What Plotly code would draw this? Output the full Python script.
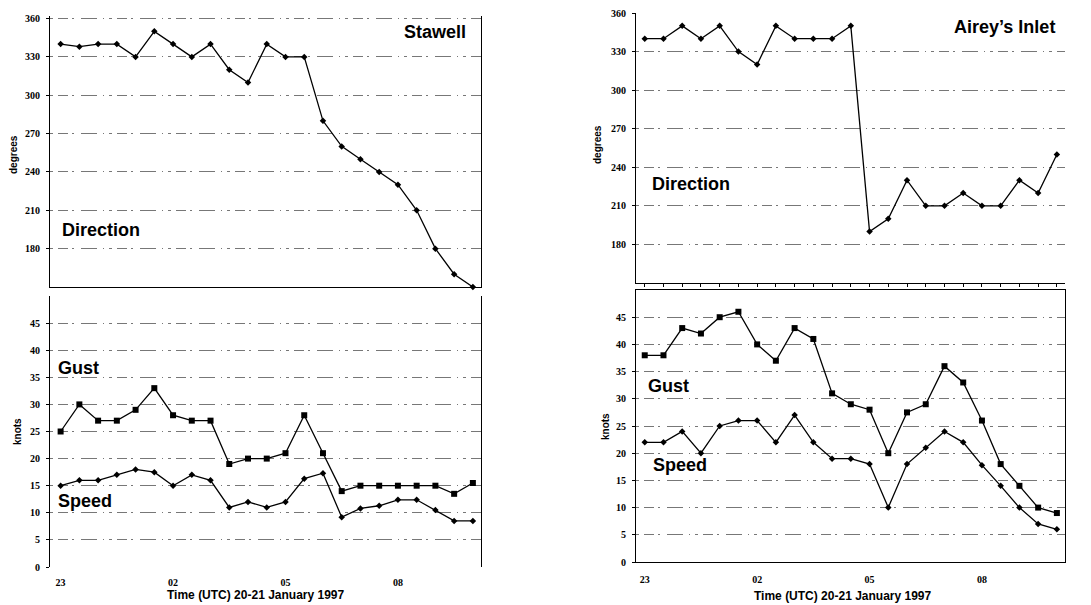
import plotly.graph_objects as go
import pandas as pd

W, H = 1091, 605

# half-hourly observation times, 23 UTC 20 Jan to 10 UTC 21 Jan 1997
times = pd.date_range("1997-01-20 23:00", "1997-01-21 10:00", freq="30min")

stawell_dir = [340, 338, 340, 340, 330, 350, 340, 330, 340, 320, 310, 340,
               330, 330, 280, 260, 250, 240, 230, 210, 180, 160, 150]
stawell_gust = [25, 30, 27, 27, 29, 33, 28, 27, 27, 19, 20, 20, 21, 28, 21,
                14, 15, 15, 15, 15, 15, 13.5, 15.5]
stawell_speed = [15, 16, 16, 17, 18, 17.5, 15, 17, 16, 11, 12, 11, 12, 16.3,
                 17.3, 9.2, 10.8, 11.3, 12.4, 12.4, 10.5, 8.5, 8.5]

airey_dir = [340, 340, 350, 340, 350, 330, 320, 350, 340, 340, 340, 350,
             190, 200, 230, 210, 210, 220, 210, 210, 230, 220, 250]
airey_gust = [38, 38, 43, 42, 45, 46, 40, 37, 43, 41, 31, 29, 28, 20, 27.5,
              29, 36, 33, 26, 18, 14, 10, 9]
airey_speed = [22, 22, 24, 20, 25, 26, 26, 22, 27, 22, 19, 19, 18, 10, 18,
               21, 24, 22, 17.8, 14, 10, 7, 6]

dir_ticks = [180, 210, 240, 270, 300, 330, 360]
knot_ticks = [0, 5, 10, 15, 20, 25, 30, 35, 40, 45]
time_tick_vals = ["1997-01-20 23:00", "1997-01-21 02:00", "1997-01-21 05:00", "1997-01-21 08:00"]
time_tick_text = ["23", "02", "05", "08"]

stations = ["Stawell", "Airey\u2019s Inlet"]
x_title = "Time (UTC) 20-21 January 1997"


def px_x(p):
    return p / W


def px_y(p):
    return 1 - p / H


# pixel boxes (left, right, top, bottom)
panels = {
    "left": dict(x=(50, 481), dir=(16, 287), kn=(296, 567),
                 dir_range=[150, 362], xr=["1997-01-20 22:43", "1997-01-21 10:13"]),
    "right": dict(x=(636, 1065), dir=(13, 283), kn=(290, 562),
                  dir_range=[150, 360], xr=["1997-01-20 22:46", "1997-01-21 10:13"]),
}

fig = go.Figure()
line_style = dict(color="black", width=1.3)
grid_dash = "3px,5px,10px,4px,2px,7px,16px,6px,1px,5px"
grid_color = "#777"
tick_font = dict(family="Liberation Serif", size=10, color="black", weight="bold")
label_font = dict(family="Liberation Sans", size=18, color="black", weight="bold")

series = [
    ("left", stawell_dir, stawell_gust, stawell_speed),
    ("right", airey_dir, airey_gust, airey_speed),
]


def sfx(n):
    return "" if n == 1 else str(n)


axis_n = 1
for side, d, g, s in series:
    p = panels[side]
    n_dir = axis_n
    n_kn = axis_n + 1
    axis_n += 2

    fig.add_trace(go.Scatter(x=times, y=d, mode="lines+markers", line=line_style,
                             marker=dict(symbol="diamond", size=5, color="black"),
                             cliponaxis=False, hoverinfo="skip",
                             xaxis="x" + sfx(n_dir), yaxis="y" + sfx(n_dir), showlegend=False))
    fig.add_trace(go.Scatter(x=times, y=g, mode="lines+markers", line=line_style,
                             marker=dict(symbol="square", size=6, color="black"),
                             cliponaxis=False, hoverinfo="skip",
                             xaxis="x" + sfx(n_kn), yaxis="y" + sfx(n_kn), showlegend=False))
    fig.add_trace(go.Scatter(x=times, y=s, mode="lines+markers", line=line_style,
                             marker=dict(symbol="diamond", size=5, color="black"),
                             cliponaxis=False, hoverinfo="skip",
                             xaxis="x" + sfx(n_kn), yaxis="y" + sfx(n_kn), showlegend=False))

    xdom = [px_x(p["x"][0]), px_x(p["x"][1])]
    dir_dom = [px_y(p["dir"][1]), px_y(p["dir"][0])]
    kn_dom = [px_y(p["kn"][1]), px_y(p["kn"][0])]

    fig.layout["xaxis" + sfx(n_dir)] = dict(
        domain=xdom, anchor="y" + sfx(n_dir), type="date", range=p["xr"],
        showgrid=False, showline=True, linecolor="black", linewidth=1.2,
        ticks="outside" if side == "right" else "", ticklen=3, tickcolor="black",
        tickvals=list(times), showticklabels=False, zeroline=False, automargin=False)
    fig.layout["yaxis" + sfx(n_dir)] = dict(
        domain=dir_dom, anchor="x" + sfx(n_dir), range=p["dir_range"],
        tickvals=dir_ticks, ticks="outside", ticklen=3, tickcolor="black",
        tickfont=tick_font, ticklabelstandoff=4, automargin=False,
        showline=True, linecolor="black", linewidth=1.2, mirror=(side == "left"),
        showgrid=True, gridcolor=grid_color, gridwidth=1, griddash=grid_dash, zeroline=False)
    fig.layout["xaxis" + sfx(n_kn)] = dict(
        domain=xdom, anchor="y" + sfx(n_kn), type="date", range=p["xr"],
        showgrid=False, showline=(side == "right"), mirror=(side == "right"),
        linecolor="black", linewidth=1.2, automargin=False,
        tickvals=time_tick_vals, ticktext=time_tick_text, ticks="",
        tickfont=tick_font, ticklabelstandoff=8, zeroline=False)
    fig.layout["yaxis" + sfx(n_kn)] = dict(
        domain=kn_dom, anchor="x" + sfx(n_kn), range=[0, 50],
        tickvals=knot_ticks, ticks="outside", ticklen=3, tickcolor="black",
        tickfont=tick_font, ticklabelstandoff=4, automargin=False,
        showline=True, linecolor="black", linewidth=1.2, mirror=True,
        showgrid=True, gridcolor=grid_color, gridwidth=1, griddash=grid_dash, zeroline=False)

annotations = []


def ann(text, x, y, font, xanchor="left", angle=0):
    annotations.append(dict(text=text, x=px_x(x), y=px_y(y), xref="paper", yref="paper",
                            showarrow=False, font=font, xanchor=xanchor, yanchor="middle",
                            textangle=angle))


small_bold = dict(family="Liberation Sans", size=10, color="black", weight="bold")
title_font = dict(family="Liberation Sans", size=12, color="black", weight="bold")

# left panel labels
ann(stations[0], 468, 32, label_font, xanchor="right")
ann("Direction", 60, 230, label_font)
ann("Gust", 56, 368, label_font)
ann("Speed", 56, 501, label_font)
ann("degrees", 13, 155, small_bold, xanchor="center", angle=-90)
ann("knots", 17, 432, small_bold, xanchor="center", angle=-90)
ann(x_title, 256, 595, title_font, xanchor="center")

# right panel labels
ann(stations[1], 1057, 27, label_font, xanchor="right")
ann("Direction", 650, 184, label_font)
ann("Gust", 646, 386, label_font)
ann("Speed", 651, 465, label_font)
ann("degrees", 597, 145, small_bold, xanchor="center", angle=-90)
ann("knots", 605, 427, small_bold, xanchor="center", angle=-90)
ann(x_title, 843, 596, title_font, xanchor="center")

fig.update_layout(width=W, height=H, autosize=False,
                  margin=dict(l=0, r=0, t=0, b=0, pad=0),
                  paper_bgcolor="white", plot_bgcolor="white",
                  annotations=annotations, showlegend=False, hovermode=False)

fig.write_html("out.html", config={"displayModeBar": False},
               post_script="document.body.style.margin='0';document.body.style.overflow='hidden';")
